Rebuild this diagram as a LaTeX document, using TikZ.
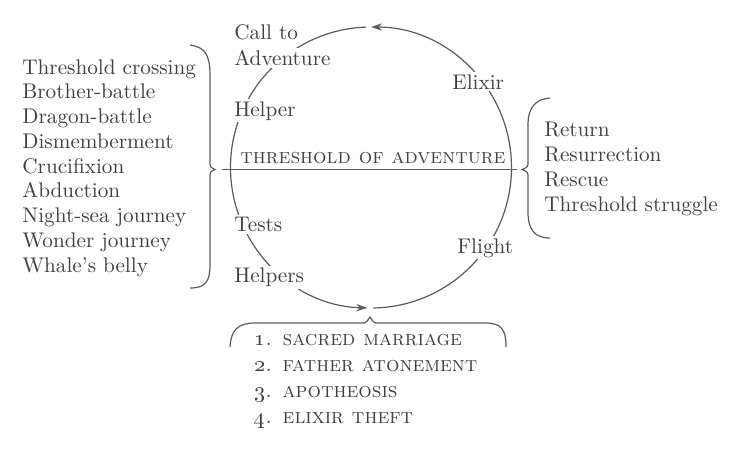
\documentclass[tikz,border=0pt]{standalone}
\usepackage{tikz}
\usetikzlibrary{arrows.meta}
\definecolor{ink}{RGB}{64,64,64}
\definecolor{rim}{RGB}{90,90,90}

\begin{document}
\begin{tikzpicture}[x=0.5pt,y=-0.5pt,
	every node/.style={text=ink, inner sep=1pt, font=\fontsize{10.6}{12.4}\selectfont},
	tag/.style={anchor=base west, fill=white},
	list/.style={anchor=base west},
	caps/.style={anchor=base west, font=\fontsize{10.6}{12}\selectfont\scshape},
	rim/.style={draw=rim, line width=0.6pt}]
	\useasboundingbox (0,0) rectangle (746,467);
	
	\coordinate (c) at (371,167.5);
	\coordinate (lt) at (215,169.5);
	\coordinate (rt) at (522,169.5);
	\coordinate (bt) at (370,317);
	
	% the round
	\draw [rim, -{Stealth[length=5.5pt,width=3.6pt]}] (c) ++(89:140.5) arc [start angle=89, end angle=-90, radius=140.5];
	\draw [rim, -{Stealth[length=5.5pt,width=3.6pt]}] (c) ++(-92:140.5) arc [start angle=-92, end angle=-268.5, radius=140.5];
	\draw [rim, shorten <=3.5pt, shorten >=2.5pt] (lt) -- (rt);
	
	% braces
	\draw [rim] (190,45) .. controls (205,47) and (210,55) .. (210,75) -- (210,161) .. controls (210,167) .. (lt) .. controls (210,172) .. (210,178) -- (210,265) .. controls (210,282) and (205,288) .. (190,288);
	\draw [rim] (550,98) .. controls (535,99) and (528,108) .. (528,125) -- (528,161) .. controls (528,167) .. (rt) .. controls (528,172) .. (528,178) -- (528,212) .. controls (528,230) and (535,238) .. (550,238);
	\draw [rim] (230,347) .. controls (231,330) and (238,323) .. (255,323) -- (361,323) .. controls (366,323) .. (bt) .. controls (374,323) .. (379,323) -- (485,323) .. controls (502,323) and (506,330) .. (506,347);
	
	% stations on the round
	\node (call) [tag] at (232,39.5) {Call to};
	\node (adv) [tag] at (232,65.5) {Adventure};
	\node (helper) [tag] at (232,116) {Helper};
	\node (tests) [tag] at (232,231.5) {Tests};
	\node (helpers) [tag] at (232,282.5) {Helpers};
	\node (elixir) [tag] at (450,89) {Elixir};
	\node (flight) [tag] at (455,253) {Flight};
	\node (thresh) [caps] at (238,163) {threshold of adventure};
	
	% lists
	\foreach \t [count=\i from 0] in {Threshold crossing, Brother-battle, Dragon-battle, Dismemberment, Crucifixion, Abduction, Night-sea journey, Wonder journey, Whale's belly}
		\node (l\i) [list] at (20,{74+24.75*\i}) {\t};
	\foreach \t [count=\i from 0] in {Return, Resurrection, Rescue, Threshold struggle}
		\node (r\i) [list] at (542,{136+25.2*\i}) {\t};
	\foreach \t [count=\i from 1] in {sacred marriage, father atonement, apotheosis, elixir theft}
		\node (b\i) [caps] at (252,{319.6+25.9*\i}) {\oldstylenums{\i}. \t};
\end{tikzpicture}
\end{document}
